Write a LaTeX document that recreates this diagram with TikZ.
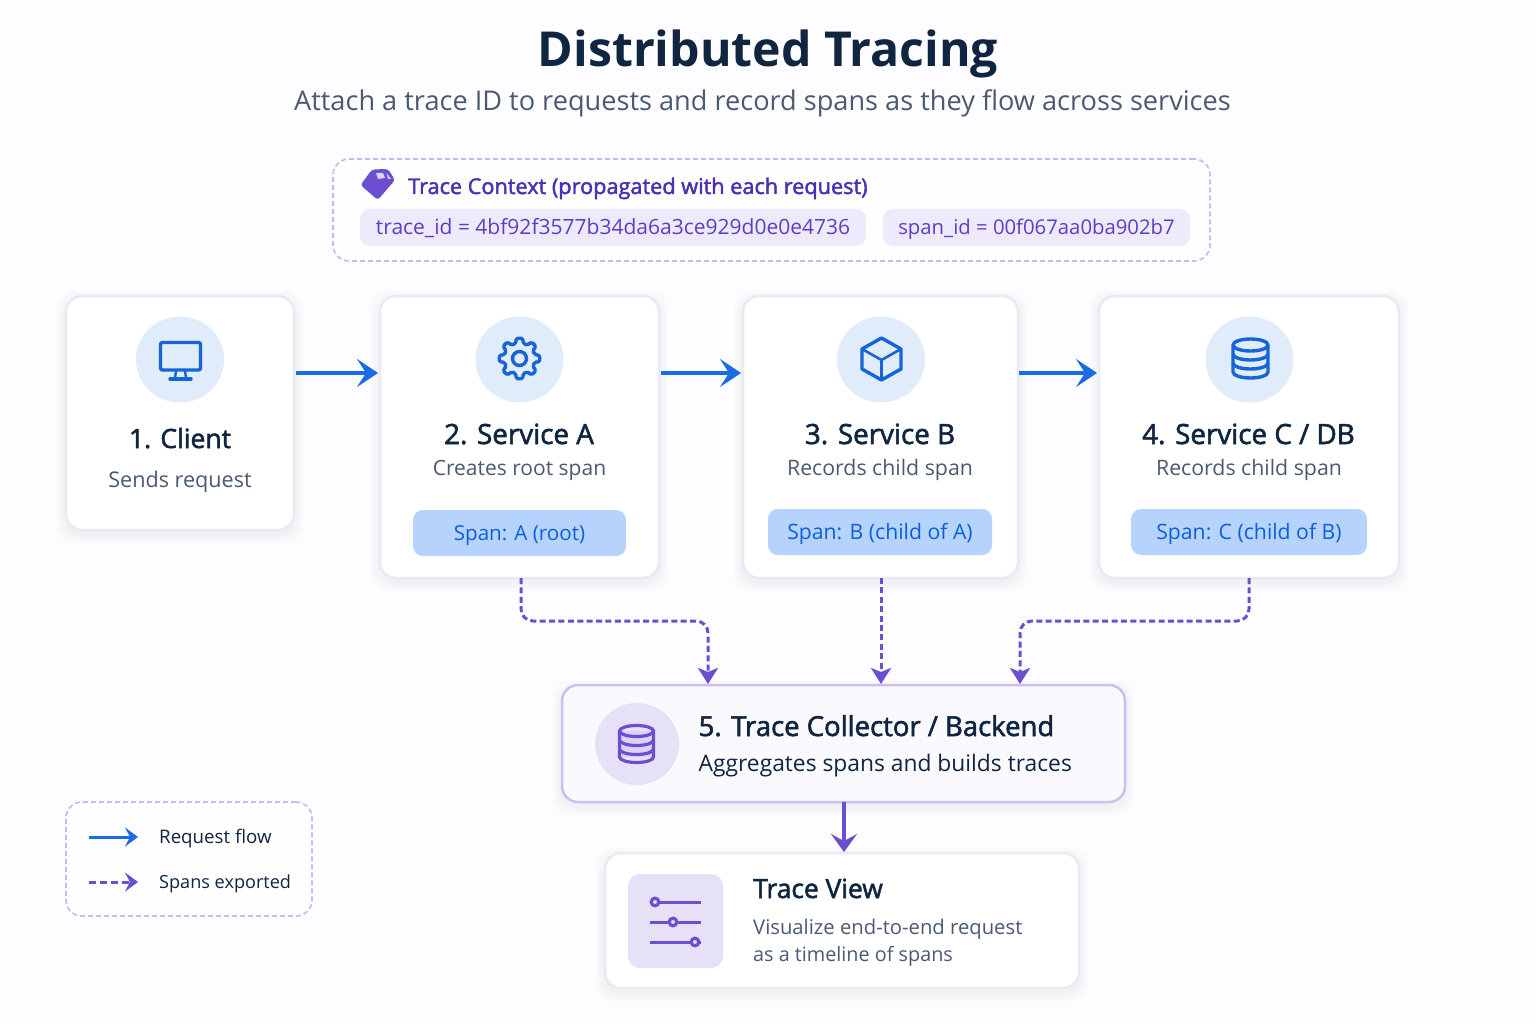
\documentclass[tikz,border=0pt]{standalone}
\usepackage{fontspec}
\setmainfont{Open Sans}
\newfontfamily\medfont[FakeBold=2]{Open Sans}
\usetikzlibrary{arrows.meta,calc,shapes.geometric}
\definecolor{bgc}{HTML}{FDFDFF}
\definecolor{navy}{HTML}{0F2540}
\definecolor{slatec}{HTML}{4B5A70}
\definecolor{ctxtitle}{HTML}{4B2FB5}
\definecolor{idtext}{HTML}{5B3FC4}
\definecolor{idpill}{HTML}{EEEAFB}
\definecolor{dashc}{HTML}{C6B8F0}
\definecolor{cardline}{HTML}{E6EBF4}
\definecolor{circb}{HTML}{E1ECFB}
\definecolor{circp}{HTML}{E7E1F8}
\definecolor{spanpill}{HTML}{B6D3FD}
\definecolor{spantext}{HTML}{0B5FD9}
\definecolor{flowb}{HTML}{1A6BE6}
\definecolor{iconb}{HTML}{1565D8}
\definecolor{flowp}{HTML}{6B4FD0}
\definecolor{collline}{HTML}{CBBFEF}
\definecolor{collfill}{HTML}{FAF9FE}
\newcommand\fsz[1]{\fontsize{#1pt}{#1pt}\selectfont}
\newcommand\softshadow[4]{%
  \foreach \i in {1,...,6}{%
    \fill[black,opacity=.006,rounded corners=18pt]
      (#1-\i*1.6,#2-\i*1.6+4) rectangle (#3+\i*1.6,#4+\i*1.6+4);}}
\tikzset{
  boxbase/.style={rectangle,inner sep=0pt,outer sep=0pt,anchor=north west,rounded corners=16pt},
  card/.style={boxbase,draw=cardline,line width=2.5pt,fill=white},
  dashbox/.style={boxbase,draw=dashc,line width=1.6pt,dash pattern=on 5pt off 3pt,fill=white,fill opacity=.6},
  idchip/.style={boxbase,anchor=center,fill=idpill,rounded corners=10pt,text=idtext,font=\fsz{21},text height=20pt,text depth=5pt},
  spanchip/.style={boxbase,anchor=center,fill=spanpill,rounded corners=10pt,text=spantext,font=\fsz{21.2},text height=19pt,text depth=5pt},
  ctitle/.style={anchor=base,inner sep=0pt,text=navy,font=\medfont\fsz{27.8}},
  csub/.style={anchor=base,inner sep=0pt,text=slatec,font=\fsz{21.3}},
  ltitle/.style={anchor=base west,inner sep=0pt,text=navy,font=\medfont\fsz{27.5}},
  lsub/.style={anchor=base west,inner sep=0pt,text=slatec,font=\fsz{20.1}},
  legtext/.style={anchor=base west,inner sep=0pt,text=navy,font=\fsz{18.4}},
  iconcirc/.style={ellipse,inner sep=0pt,outer sep=0pt,fill=circb,minimum width=88pt,minimum height=86pt},
  flow/.style={draw=flowb,line width=4.4pt,-{Stealth[length=21pt,width=28pt,inset=9pt]}},
  flowthin/.style={draw=flowb,line width=3pt,-{Stealth[length=13pt,width=19pt,inset=5pt]}},
  spanflow/.style={draw=flowp,line width=3pt,dash pattern=on 6pt off 3.4pt,rounded corners=12pt,-{Stealth[length=16pt,width=20pt,inset=4pt]}},
  legspan/.style={draw=flowp,line width=3pt,dash pattern=on 7pt off 4pt,-{Stealth[length=13pt,width=19pt,inset=5pt]}},
  mainp/.style={draw=flowp,line width=4.6pt,-{Stealth[length=18pt,width=26pt,inset=7pt]}},
  icb/.style={draw=iconb,line width=3.4pt,line join=round,line cap=round},
  icp/.style={draw=flowp,line width=3.2pt,line join=round,line cap=round},
}
\begin{document}
\begin{tikzpicture}[x=1pt,y=-1pt]
\useasboundingbox (0,0) rectangle (1536,1024);
\fill[bgc] (0,0) rectangle (1536,1024);

% title
\node[anchor=base,inner sep=0pt,text=navy,font=\bfseries\fsz{48.2}] (title) at (768,66.5) {Distributed Tracing};
\node[anchor=base,inner sep=0pt,text=slatec,font=\fsz{27.15}] (subtitle) at (762.5,111) {Attach a trace ID to requests and record spans as they flow across services};

% trace context
\node[dashbox,minimum width=877pt,minimum height=102pt] (ctx) at (333,159) {};
\fill[flowp,rounded corners=3pt] (372,169.5) -- (388,169) -- (395,180) -- (377.7,200) -- (360.5,185) -- cycle;
\fill[white,opacity=.75] (376,173) -- (383,173) -- (385,178) -- (378,179) -- cycle;
\fill[white,opacity=.75] (386.5,173) -- (391,179) -- (388,179) -- cycle;
\node[lsub,text=ctxtitle,font=\medfont\fsz{21.7}] (ctxtitle) at (408,194) {Trace Context (propagated with each request)};
\node[idchip,minimum width=506pt,minimum height=37pt] (idA) at (613,227.5) {trace\_id = 4bf92f3577b34da6a3ce929d0e0e4736};
\node[idchip,font=\fsz{20.3},minimum width=307pt,minimum height=37pt] (idB) at (1036.5,227.5) {span\_id = 00f067aa0ba902b7};

% shadows
\softshadow{66}{296}{294}{530}
\softshadow{380}{296}{659}{578}
\softshadow{743}{296}{1018}{578}
\softshadow{1099}{296}{1399}{578}
\softshadow{562}{685}{1125}{802}
\softshadow{605}{853}{1079}{988}

% cards
\node[card,minimum width=228pt,minimum height=234pt] (client) at (66,296) {};
\node[card,minimum width=279pt,minimum height=282pt] (sa) at (380,296) {};
\node[card,minimum width=275pt,minimum height=282pt] (sb) at (743,296) {};
\node[card,minimum width=300pt,minimum height=282pt] (sc) at (1099,296) {};
\node[card,draw=collline,fill=collfill,minimum width=563pt,minimum height=117pt] (coll) at (562,685) {};
\node[card,minimum width=474pt,minimum height=135pt] (view) at (605,853) {};
\node[dashbox,minimum width=246pt,minimum height=114pt] (legend) at (66,802) {};

% icon backgrounds
\node[iconcirc] (ic1) at (180,359.5) {};
\node[iconcirc] (ic2) at (519.5,359.5) {};
\node[iconcirc] (ic3) at (881,359.5) {};
\node[iconcirc] (ic4) at (1249.5,359.5) {};
\node[iconcirc,fill=circp,minimum width=84pt,minimum height=82pt] (ic5) at (637,744) {};
\node[boxbase,fill=circp,rounded corners=12pt,minimum width=95pt,minimum height=94pt] (ic6) at (628,874) {};

% monitor
\draw[icb,rounded corners=2pt] (160.5,342.5) rectangle (200.5,370);
\draw[icb,line width=2.4pt] (176,371) -- (175,378) (185,371) -- (186,378);
\draw[icb] (170,379) -- (191,379);

% gear
\begin{scope}[shift={(519.5,358.5)}]
\draw[icb,rounded corners=1.6pt] (-14:15.5)
  \foreach \a in {0,45,...,315}{ -- (\a-9:20.5) -- (\a+9:20.5) -- (\a+14:15.5) -- (\a+31:15.5) } -- cycle;
\draw[icb] (0,0) circle[radius=7];
\end{scope}

% cube
\draw[icb] (881.5,338) -- (901,349) -- (901,369) -- (881.5,380) -- (862,369) -- (862,349) -- cycle;
\draw[icb,line width=2.6pt] (862,349) -- (881.5,360) -- (901,349) (881.5,360) -- (881.5,380);

% database C
\begin{scope}[shift={(1250.5,345)}]
\draw[icb] (0,0) ellipse[x radius=17.5,y radius=6];
\draw[icb] (-17.5,0) -- (-17.5,27) arc[start angle=180,end angle=0,x radius=17.5,y radius=6] -- (17.5,0);
\draw[icb] (-17.5,9) arc[start angle=180,end angle=0,x radius=17.5,y radius=6];
\draw[icb] (-17.5,18) arc[start angle=180,end angle=0,x radius=17.5,y radius=6];
\end{scope}

% database collector
\begin{scope}[shift={(636.5,731)}]
\fill[flowp!30,opacity=.6] (-17,0) rectangle (17,26);
\draw[icp] (0,0) ellipse[x radius=17,y radius=5.5];
\draw[icp] (-17,0) -- (-17,26) arc[start angle=180,end angle=0,x radius=17,y radius=5.5] -- (17,0);
\draw[icp] (-17,9) arc[start angle=180,end angle=0,x radius=17,y radius=5.5];
\draw[icp] (-17,18) arc[start angle=180,end angle=0,x radius=17,y radius=5.5];
\end{scope}

% sliders
\draw[flowp,line width=3pt] (650,902) -- (701,902) (650,922) -- (701,922) (650,942) -- (701,942);
\foreach \kx/\ky in {655/902,673/922,695/942}
  \draw[flowp,line width=3.2pt,fill=circp] (\kx,\ky) circle[radius=3.8];

% card texts
\node[ctitle,font=\medfont\fsz{26.5}] (t1) at (180,448) {1. Client};
\node[csub,font=\fsz{21.6}] (s1) at (180,487) {Sends request};
\node[ctitle] (t2) at (519,444) {2. Service A};
\node[csub,font=\fsz{21}] (s2) at (519.5,475) {Creates root span};
\node[ctitle] (t3) at (880,444) {3. Service B};
\node[csub] (s3) at (880,475) {Records child span};
\node[ctitle] (t4) at (1248.5,444) {4. Service C / DB};
\node[csub] (s4) at (1249,475) {Records child span};
\node[spanchip,font=\fsz{20.6},minimum width=213pt,minimum height=46pt] (p2) at (519.5,533) {Span: A (root)};
\node[spanchip,minimum width=224pt,minimum height=46pt] (p3) at (880,532) {Span: B (child of A)};
\node[spanchip,minimum width=236pt,minimum height=46pt] (p4) at (1249,532) {Span: C (child of B)};
\node[ltitle] (t5) at (698.5,736) {5. Trace Collector / Backend};
\node[lsub,text=navy,font=\fsz{22.8}] (s5) at (698.5,771) {Aggregates spans and builds traces};
\node[ltitle,font=\medfont\fsz{26.4}] (t6) at (753,898) {Trace View};
\node[lsub,font=\fsz{20.25}] (s6a) at (753,934) {Visualize end-to-end request};
\node[lsub,font=\fsz{19.8}] (s6b) at (753,961) {as a timeline of spans};

% legend
\node[legtext,font=\fsz{18.7}] (lg1) at (159,843) {Request flow};
\node[legtext,font=\fsz{18.1}] (lg2) at (159,888) {Spans exported};
\coordinate (la1) at (89,837);
\coordinate (la1e) at (138,837);
\coordinate (la2) at (89,882);
\coordinate (la2e) at (138,882);
\draw[flowthin] (la1) -- (la1e);
\draw[legspan] (la2) -- (la2e);

% connectors
\draw[flow] ([xshift=2pt,yshift=40pt]client.east) -- ([xshift=-2pt,yshift=64pt]sa.west);
\draw[flow] ([xshift=2pt,yshift=64pt]sa.east) -- ([xshift=-2pt,yshift=64pt]sb.west);
\draw[flow] ([xshift=1pt,yshift=64pt]sb.east) -- ([xshift=-2pt,yshift=64pt]sc.west);
\draw[spanflow] ([xshift=1.5pt]sa.south) -- ++(0,43) -| ([xshift=-135.5pt,yshift=1pt]coll.north);
\draw[spanflow] ([xshift=.5pt]sb.south) -- ([xshift=37.5pt,yshift=1pt]coll.north);
\draw[spanflow] (sc.south) -- ++(0,43) -| ([xshift=176.5pt,yshift=1pt]coll.north);
\draw[mainp] ([xshift=.5pt]coll.south) -- ([xshift=2pt,yshift=1pt]view.north);
\end{tikzpicture}
\end{document}
